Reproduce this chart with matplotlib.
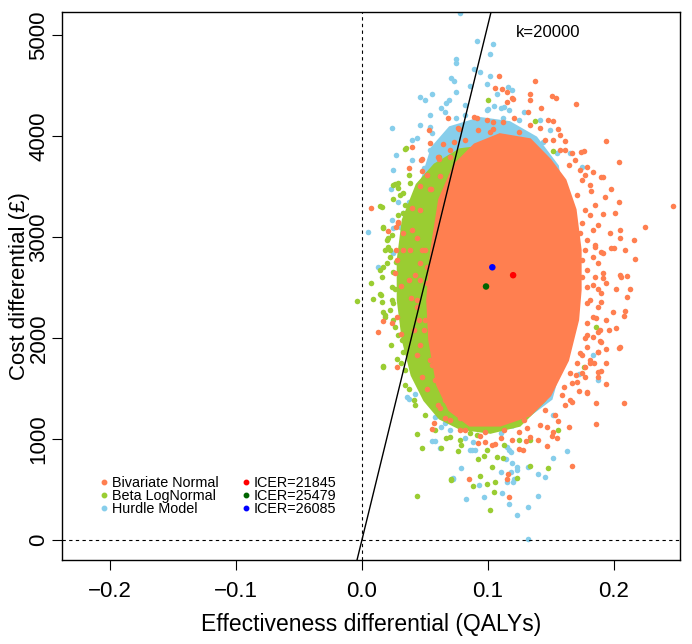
import matplotlib
matplotlib.use("Agg")
import matplotlib.pyplot as plt
from matplotlib.lines import Line2D

plt.rcParams['font.family'] = ['Liberation Sans', 'DejaVu Sans']

# series names and colours
models = ['Bivariate Normal', 'Beta LogNormal', 'Hurdle Model']
cloud_colors = ['#FF7F50', '#9ACD32', '#87CEEB']
mean_colors = ['#FF0000', '#006400', '#0000FF']

# mean effectiveness and ICER per model (mean cost = ICER * mean effect)
mean_effect = [0.1200, 0.0985, 0.1035]
icer = [21845, 25479, 26085]

wtp_label = 'k=20000'
line_slope = 51000

# dense centre of each simulated cloud (outline)
bn_core_x = [0.1095, 0.1333, 0.149, 0.161, 0.169, 0.173, 0.173, 0.171, 0.163, 0.149, 0.133,
             0.1095, 0.0857, 0.0698, 0.0603, 0.054, 0.0524, 0.0556, 0.0619, 0.0738, 0.0897]
bn_core_y = [4010, 3960, 3760, 3560, 3270, 2870, 2475, 2180, 1780, 1435, 1240,
             1140, 1140, 1290, 1535, 1980, 2375, 2870, 3370, 3710, 3910]

bl_core_x = [0.044, 0.058, 0.078, 0.110, 0.141, 0.157, 0.165, 0.161, 0.145, 0.125,
             0.102, 0.078, 0.062, 0.050, 0.040, 0.033, 0.029, 0.029, 0.033]
bl_core_y = [3515, 3712, 3861, 3910, 3812, 3465, 2772, 1980, 1386, 1138,
             1069, 1109, 1208, 1386, 1633, 1980, 2376, 2772, 3168]

hm_core_x = [0.056, 0.070, 0.094, 0.117, 0.138, 0.155, 0.163, 0.163, 0.150,
             0.120, 0.090, 0.060, 0.045, 0.040, 0.044]
hm_core_y = [3880, 4080, 4170, 4130, 3980, 3700, 3000, 2000, 1400,
             1120, 1100, 1300, 1900, 2700, 3400]

# scattered simulations outside the dense centre
bn_x = [0.204, 0.247, 0.225, 0.216, 0.217, 0.209, 0.205, 0.205, 0.201, 0.204, 0.198, 0.193,
        0.190, 0.183, 0.182, 0.200, 0.210, 0.213, 0.206, 0.202, 0.210, 0.208, 0.209, 0.199,
        0.202, 0.205, 0.194, 0.190, 0.194, 0.190, 0.187, 0.194, 0.179, 0.186, 0.208, 0.186,
        0.164, 0.196, 0.187, 0.181,
        0.137, 0.133, 0.151, 0.154, 0.170, 0.133, 0.142, 0.152, 0.194, 0.156, 0.161, 0.176,
        0.174, 0.191, 0.191, 0.179, 0.164, 0.167, 0.109, 0.106, 0.111, 0.120, 0.068, 0.053,
        0.040, 0.054, 0.037, 0.048, 0.060, 0.076, 0.099, 0.091, 0.115, 0.119, 0.115, 0.132,
        0.089, 0.104, 0.112, 0.077, 0.092, 0.104, 0.064, 0.073, 0.047, 0.061, 0.070, 0.062,
        0.046, 0.055, 0.007, 0.040, 0.029, 0.027,
        0.021, 0.013, 0.017, 0.024, 0.028, 0.031, 0.028, 0.026, 0.031, 0.028, 0.027, 0.033,
        0.033, 0.029, 0.048, 0.044, 0.046, 0.044, 0.039, 0.048, 0.052, 0.052, 0.042, 0.045,
        0.044, 0.048, 0.052, 0.040,
        0.056, 0.085, 0.116, 0.117, 0.115, 0.167, 0.092, 0.098, 0.106, 0.125, 0.130, 0.147,
        0.151, 0.152, 0.156, 0.147, 0.177, 0.179, 0.172, 0.165, 0.167, 0.084, 0.078, 0.062,
        0.057, 0.075, 0.131, 0.140, 0.155, 0.128,
        0.198, 0.197, 0.190, 0.191, 0.194, 0.190, 0.194, 0.187, 0.189, 0.184, 0.187, 0.171,
        0.177, 0.204, 0.205,
        0.175, 0.181, 0.185, 0.183, 0.186, 0.179, 0.175, 0.170, 0.159, 0.145, 0.129, 0.113,
        0.098, 0.082, 0.070, 0.066, 0.060, 0.046, 0.050, 0.157, 0.145, 0.125, 0.102, 0.082,
        0.070,
        0.175, 0.183, 0.187, 0.179, 0.185, 0.191, 0.183, 0.187, 0.179, 0.185, 0.191, 0.179,
        0.187, 0.190, 0.181, 0.187, 0.183, 0.179, 0.189, 0.183, 0.177, 0.179, 0.187, 0.173,
        0.181, 0.171, 0.175, 0.165, 0.167, 0.160, 0.179, 0.175, 0.175, 0.173, 0.177,
        0.169, 0.177, 0.181, 0.173, 0.185, 0.177, 0.171, 0.161, 0.152, 0.141, 0.133, 0.121,
        0.157, 0.148,
        0.161, 0.153, 0.141, 0.125, 0.110, 0.094, 0.078, 0.066, 0.060, 0.119, 0.133, 0.103,
        0.050, 0.046, 0.044, 0.049, 0.054, 0.046, 0.054, 0.052, 0.038, 0.037, 0.041, 0.056,
        0.058]
bn_y = [3740, 3310, 3100, 2970, 2780, 2870, 3070, 2990, 3240, 3350, 3470, 3400,
        3590, 3640, 3450, 2890, 2610, 2480, 2600, 2480, 2410, 2220, 2270, 2260,
        2100, 1910, 1890, 1960, 1750, 1670, 1610, 1540, 1470, 1360, 1360, 1150,
        1120, 2080, 1860, 1750,
        4540, 4420, 4400, 4380, 4320, 4360, 4280, 4150, 3950, 4070, 3950, 3850,
        3840, 3590, 3230, 3690, 3710, 3830, 4590, 4470, 4460, 4370, 4180, 4060,
        3890, 3930, 3680, 3770, 3790, 4080, 4160, 4180, 4430, 4380, 4340, 4240,
        4190, 4140, 4140, 4070, 4060, 4070, 3920, 3940, 3760, 3770, 3790, 3600,
        3500, 3470, 3290, 3290, 3150, 3100,
        3060, 2060, 2170, 2150, 2210, 2040, 1710, 2640, 2510, 2770, 2870, 2870,
        3040, 3140, 3650, 2990, 2740, 2310, 2400, 2870, 2700, 2540, 2620, 2180,
        1830, 1610, 1490, 3070,
        1100, 600, 650, 430, 600, 730, 960, 970, 950, 900, 980, 1120,
        1030, 1070, 1180, 930, 1710, 1460, 1480, 1390, 1370, 1180, 1210, 1310,
        1160, 1290, 1110, 990, 1010, 890,
        2890, 3040, 2850, 2640, 2540, 2360, 2180, 2060, 1970, 1750, 1660, 1560,
        1610, 1900, 2620,
        3560, 3220, 2920, 2520, 2200, 2030, 1830, 1630, 1440, 1290, 1190, 1090,
        1070, 1090, 1190, 1390, 1680, 1930, 2180, 3860, 3960, 4040, 4040, 3960,
        3860,
        3140, 3070, 3120, 2970, 2900, 2840, 2800, 2740, 2670, 2600, 2590, 2500,
        2480, 2450, 2380, 2310, 2210, 2150, 2080, 2010, 2000, 1910, 1860, 1850,
        1780, 1750, 1650, 1650, 1550, 1510, 2350, 2770, 2600, 3040, 2870,
        3760, 3610, 3510, 3660, 3320, 3270, 3420, 3860, 3960, 4080, 4110, 4180,
        4010, 4160,
        1340, 1240, 1140, 1070, 1010, 1030, 1090, 1210, 1340, 990, 1020, 940,
        2870, 2570, 2380, 2080, 1780, 3270, 3470, 3610, 2870, 2570, 2080, 1730,
        1580]

bl_x = [0.100, 0.137, 0.034, 0.038, 0.025, 0.029, 0.037, 0.061, 0.090, 0.152, 0.035, 0.029,
        0.025, 0.033, 0.052, 0.014, 0.017, 0.033, 0.038, 0.042,
        -0.004, 0.007, 0.009, 0.014, 0.016, 0.017, 0.018, 0.016, 0.026, 0.017, 0.020, 0.021,
        0.018, 0.022, 0.017, 0.016, 0.024, 0.025, 0.026, 0.032, 0.033, 0.028, 0.031, 0.017,
        0.040, 0.040, 0.046, 0.015, 0.018, 0.034, 0.014, 0.021, 0.022, 0.020, 0.024,
        0.017, 0.044, 0.048, 0.044, 0.076, 0.071, 0.088, 0.094, 0.102, 0.105, 0.123, 0.125,
        0.133, 0.148, 0.156, 0.097, 0.107, 0.054, 0.048, 0.067, 0.083, 0.091, 0.063, 0.071,
        0.099, 0.106, 0.092, 0.103, 0.112, 0.070, 0.078, 0.086, 0.041,
        0.186, 0.176,
        0.030, 0.034, 0.029, 0.024, 0.027, 0.025, 0.026, 0.022, 0.025, 0.029, 0.023, 0.034,
        0.037, 0.042, 0.050, 0.058, 0.067, 0.079, 0.099, 0.113, 0.133]
bl_y = [4360, 4150, 3870, 3530, 3510, 3530, 3610, 3790, 3730, 3850, 3880, 3480,
        3380, 3440, 3610, 3310, 3100, 3240, 3300, 3200,
        2370, 2540, 2390, 2440, 2360, 2260, 2230, 3300, 3520, 3090, 2970, 2900,
        2870, 2800, 2700, 2600, 2500, 2350, 2110, 1980, 1860, 1790, 1750, 1710,
        1850, 1710, 1750, 2430, 2210, 1530, 2670, 2990, 2870, 2740, 2380,
        1720, 440, 910, 1050, 880, 590, 530, 630, 300, 480, 610, 990,
        730, 710, 1090, 830, 820, 1360, 1490, 1290, 1110, 1040, 910, 600,
        550, 570, 800, 720, 810, 1020, 990, 1060, 1390,
        2110, 1710,
        3420, 3320, 3220, 3020, 2750, 2650, 2480, 2280, 2180, 2030, 1930, 1680,
        1490, 1340, 1240, 1090, 1010, 940, 890, 940, 990]

hm_x = [0.078, 0.091, 0.104, 0.102, 0.075, 0.075, 0.089, 0.094, 0.071, 0.073, 0.102, 0.075,
        0.086, 0.099, 0.116, 0.119, 0.046, 0.050, 0.056, 0.069, 0.067, 0.063, 0.100, 0.105,
        0.113, 0.117, 0.024, 0.044, 0.027, 0.025, 0.023, 0.054, 0.056, 0.075, 0.082, 0.091,
        0.112, 0.125, 0.155, 0.165, 0.175, 0.144, 0.107, 0.099, 0.040, 0.049, 0.054, 0.046,
        0.037, 0.041, 0.034, 0.025,
        0.005, 0.029, 0.039, 0.033, 0.024, 0.025, 0.013, 0.040, 0.036, 0.042, 0.030, 0.041,
        0.044, 0.052,
        0.037, 0.056, 0.062, 0.072, 0.079, 0.083, 0.097, 0.093, 0.114, 0.118, 0.120, 0.117,
        0.123, 0.132, 0.132, 0.123, 0.140, 0.140, 0.145, 0.152, 0.163, 0.152, 0.172, 0.086,
        0.087, 0.070, 0.082, 0.063, 0.058, 0.066, 0.117, 0.115, 0.102, 0.110, 0.058, 0.111,
        0.115, 0.121, 0.119, 0.123, 0.118, 0.132, 0.110, 0.090, 0.088, 0.072,
        0.187, 0.183,
        0.054, 0.066, 0.082, 0.110, 0.129, 0.141, 0.149, 0.046, 0.040]
hm_y = [5215, 4940, 4910, 4810, 4760, 4720, 4660, 4630, 4570, 4540, 4590, 4430,
        4490, 4510, 4480, 4450, 4390, 4360, 4420, 4360, 4330, 4280, 4270, 4300,
        4290, 4260, 4080, 3980, 3810, 3660, 3470, 4090, 4030, 4180, 4210, 4160,
        4180, 4160, 3830, 3830, 3690, 3940, 4420, 4260, 3760, 3680, 3860, 3530,
        3350, 3400, 3220, 3090,
        3050, 3350, 3350, 3240, 3170, 2840, 2700, 2180, 1420, 1450, 3100, 1810,
        1610, 1550,
        1400, 980, 910, 600, 710, 410, 430, 540, 800, 670, 570, 360,
        250, 330, 15, 720, 440, 650, 620, 810, 880, 1240, 1640, 890,
        890, 1090, 1010, 1120, 1220, 1160, 890, 920, 1090, 1060, 980, 470,
        570, 600, 760, 690, 870, 720, 670, 890, 970, 610,
        1580, 1830,
        4210, 4240, 4310, 4280, 4240, 4160, 4060, 4110, 3960]

fig = plt.figure(figsize=(6.92, 6.44), dpi=100)
ax = fig.add_axes([0.0896, 0.1304, 0.893, 0.851])

# hurdle first, then beta lognormal, bivariate normal on top
layers = [(hm_core_x, hm_core_y, hm_x, hm_y, cloud_colors[2]),
          (bl_core_x, bl_core_y, bl_x, bl_y, cloud_colors[1]),
          (bn_core_x, bn_core_y, bn_x, bn_y, cloud_colors[0])]
for cx, cy, px, py, col in layers:
    ax.fill(cx, cy, color=col, lw=2.5, ec=col, zorder=2)
    ax.scatter(px, py, s=16, color=col, linewidths=0, zorder=2)

mean_cost = [i * e for i, e in zip(icer, mean_effect)]
ax.scatter(mean_effect, mean_cost, s=22, c=mean_colors, linewidths=0, zorder=4)

ax.axvline(0, color='black', ls=(0, (3, 3)), lw=0.8, zorder=3)
ax.axhline(0, color='black', ls=(0, (3, 3)), lw=0.8, zorder=3)
ax.axline((0, 0), slope=line_slope, color='black', lw=1.0, zorder=3)
ax.text(0.148, 5020, wtp_label, ha='center', va='center', fontsize=12)

ax.set_xlim(-0.238, 0.2524)
ax.set_ylim(-198, 5227)
ax.set_xticks([-0.2, -0.1, 0.0, 0.1, 0.2])
ax.set_xticklabels(['\u22120.2', '\u22120.1', '0.0', '0.1', '0.2'])
ax.set_yticks([0, 1000, 2000, 3000, 4000, 5000])
ax.tick_params(labelsize=16, length=7, width=0.8)
ax.tick_params(axis='x', pad=8)
ax.tick_params(axis='y', pad=2)
for lab in ax.get_yticklabels():
    lab.set_rotation(90)
    lab.set_va('center')
for sp in ax.spines.values():
    sp.set_linewidth(1.0)

ax.set_xlabel('Effectiveness differential (QALYs)', fontsize=16.5, labelpad=8)
ax.set_ylabel('Cost differential (\u00a3)', fontsize=16, labelpad=-1)

h1 = [Line2D([], [], marker='o', ls='', color=c, markersize=3.2) for c in cloud_colors]
leg1 = ax.legend(h1, models, loc='lower left', bbox_to_anchor=(0.062, 0.08),
                 frameon=False, fontsize=10.4, handlelength=0.5, handletextpad=0.3,
                 labelspacing=-0.05, borderpad=0, borderaxespad=0)
ax.add_artist(leg1)
h2 = [Line2D([], [], marker='o', ls='', color=c, markersize=3.2) for c in mean_colors]
ax.legend(h2, ['ICER=%d' % v for v in icer], loc='lower left', bbox_to_anchor=(0.292, 0.08),
          frameon=False, fontsize=10.4, handlelength=0.5, handletextpad=0.3,
          labelspacing=-0.05, borderpad=0, borderaxespad=0)

fig.savefig('out.png', dpi=100)
